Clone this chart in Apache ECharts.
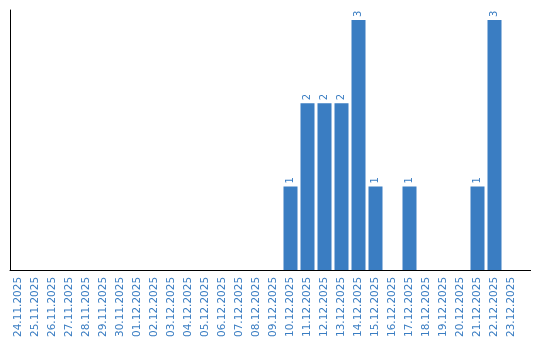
<!DOCTYPE html>
<html>
<head>
<meta charset="utf-8">
<script src="https://cdn.jsdelivr.net/npm/echarts@6/dist/echarts.min.js"></script>
<style>html,body{margin:0;padding:0;background:#fff}#c{width:540px;height:340px}</style>
</head>
<body>
<div id="c"></div>
<script>
const categories = ["24.11.2025","25.11.2025","26.11.2025","27.11.2025","28.11.2025","29.11.2025","30.11.2025","01.12.2025","02.12.2025","03.12.2025","04.12.2025","05.12.2025","06.12.2025","07.12.2025","08.12.2025","09.12.2025","10.12.2025","11.12.2025","12.12.2025","13.12.2025","14.12.2025","15.12.2025","16.12.2025","17.12.2025","18.12.2025","19.12.2025","20.12.2025","21.12.2025","22.12.2025","23.12.2025"];
const values = [0,0,0,0,0,0,0,0,0,0,0,0,0,0,0,0,1,2,2,2,3,1,0,1,0,0,0,1,3,0];

const blue = '#3a7dc2';
const chart = echarts.init(document.getElementById('c'));
chart.setOption({
  animation: false,
  grid: { left: 10, top: 10, width: 510, bottom: 70 },
  xAxis: {
    type: 'category',
    data: categories,
    axisLine: { lineStyle: { color: '#000', width: 1 } },
    axisTick: { show: false },
    axisLabel: { rotate: 90, color: blue, fontFamily: 'DejaVu Sans', fontSize: 10.5, margin: 7, interval: 0 }
  },
  yAxis: {
    type: 'value', min: 0, max: 3.12,
    axisLine: { show: true, lineStyle: { color: '#000', width: 1 } },
    axisTick: { show: false },
    axisLabel: { show: false },
    splitLine: { show: false }
  },
  graphic: [{
    type: 'line', shape: { x1: 519, y1: 270.5, x2: 531, y2: 270.5 },
    style: { stroke: '#000', lineWidth: 1 }
  }],
  series: [{
    type: 'bar',
    data: values.map(v => v === 0 ? null : v),
    barWidth: 14,
    itemStyle: { color: blue },
    label: {
      show: true, position: 'top', rotate: 90, align: 'left', verticalAlign: 'middle',
      distance: 3, color: blue, fontFamily: 'DejaVu Sans', fontSize: 10
    }
  }]
});
</script>
</body>
</html>
